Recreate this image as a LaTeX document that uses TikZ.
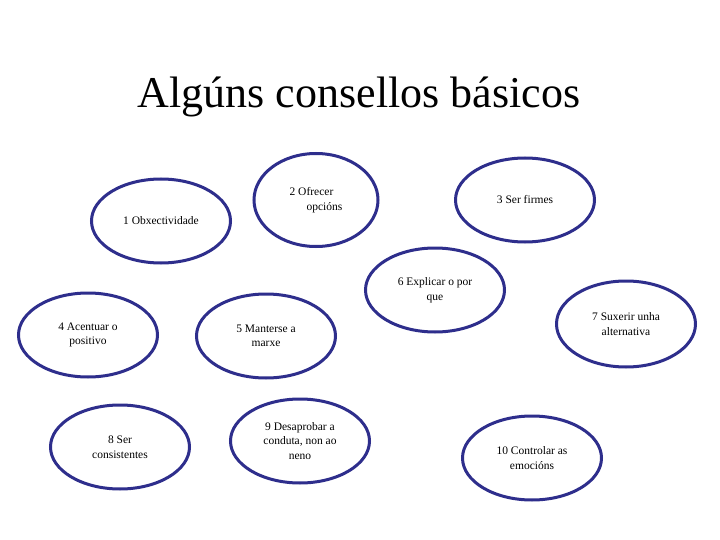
\documentclass[tikz,border=0pt]{standalone}
\usepackage{fontspec}
\setmainfont{Liberation Serif}
\usetikzlibrary{shapes.geometric}
\definecolor{ovalblue}{RGB}{46,46,140}

\begin{document}
\begin{tikzpicture}[x=1pt,y=-1pt,
  consello/.style={ellipse,draw=ovalblue,line width=3pt,minimum width=139pt,minimum height=84pt,inner sep=0pt,align=center,font=\fontsize{11.5}{14.5}\selectfont}]
\useasboundingbox[fill=white] (0,0) rectangle (720,540);
\node[anchor=base,font=\fontsize{44}{50}\selectfont] (title) at (359,108) {Algúns consellos básicos};
% consellos
\node[consello] (c1) at (161,221) {1 Obxectividade};
\node[consello,minimum width=124pt,minimum height=93pt,align=left] (c2) at (316,200) {2 Ofrecer\\\hspace*{17pt}opcións};
\node[consello] (c3) at (525,200) {3 Ser firmes};
\node[consello] (c4) at (88,335) {4 Acentuar o\\positivo};
\node[consello] (c5) at (266,336) {5 Manterse a\\marxe};
\node[consello] (c6) at (435,290) {6 Explicar o por\\que};
\node[consello,minimum height=86pt] (c7) at (626,324) {7 Suxerir unha\\alternativa};
\node[consello] (c8) at (120,447) {8 Ser\\consistentes};
\node[consello] (c9) at (300,441) {9 Desaprobar a\\conduta, non ao\\neno};
\node[consello] (c10) at (532,458) {10 Controlar as\\emocións};
\end{tikzpicture}
\end{document}
